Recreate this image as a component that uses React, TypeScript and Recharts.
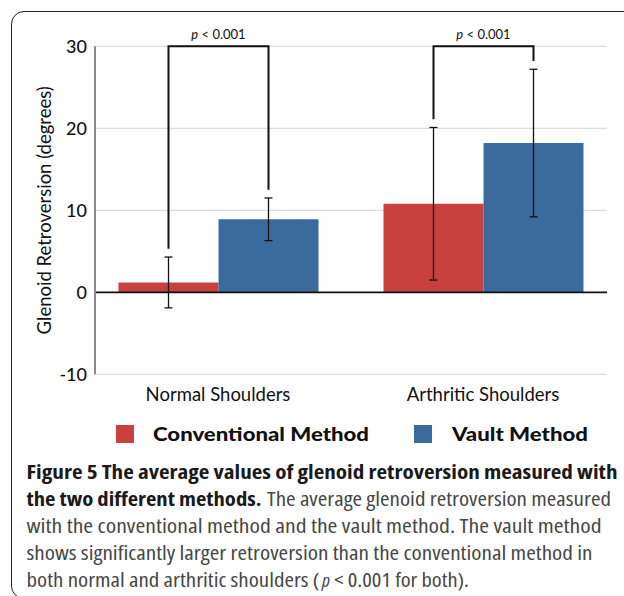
import React from 'react';
import {
  BarChart, Bar, XAxis, YAxis, CartesianGrid, ErrorBar, ReferenceLine, Legend, LabelList,
} from 'recharts';

const categories = ['Normal Shoulders', 'Arthritic Shoulders'];
const conventional = [1.2, 10.8];
const vault = [8.9, 18.2];
const conventionalErr = [3.1, 9.3];
const vaultErr = [2.6, 9.0];
const bracketTop = 30;
const bracketConvEnd = [5.3, 21.1];
const bracketVaultEnd = [12.5, 28.2];
const pLabels = ['< 0.001', '< 0.001'];
const yTicks = [-10, 0, 10, 20, 30];

const seriesNames = ['Conventional Method', 'Vault Method'];
const RED = '#c8413f';
const BLUE = '#3b6b9c';
const FONT = 'Lato, "Open Sans", sans-serif';

const data = categories.map((c, i) => ({
  category: c,
  conventional: conventional[i],
  vault: vault[i],
  convErr: conventionalErr[i],
  vaultErr: vaultErr[i],
}));

const renderBracket = (props: any) => {
  const { x, y, width, height, index } = props;
  const i = typeof index === 'number' ? index : 0;
  const value = conventional[i];
  const zero = y + height;
  const ppu = height / value;
  const pix = (v: number) => zero - v * ppu;
  const xL = x + width / 2;
  const xR = x + width * 1.5;
  const yTop = pix(bracketTop);
  const yL = pix(bracketConvEnd[i]);
  const yR = pix(bracketVaultEnd[i]);
  return (
    <g>
      <path d={`M${xL},${yL} V${yTop} H${xR} V${yR}`} fill="none" stroke="#111" strokeWidth={2} />
      <text x={x + width} y={yTop - 7} textAnchor="middle" fontSize={13} fontFamily={FONT} fill="#111">
        <tspan fontStyle="italic">p</tspan>
        <tspan> {pLabels[i]}</tspan>
      </text>
    </g>
  );
};

const legendTextLen = [216, 136];
const renderLegend = () => (
  <svg width={480} height={30} style={{ display: 'block', overflow: 'visible' }}>
    <rect x={0} y={4} width={18} height={18} fill={RED} />
    <text x={37} y={19.5} textLength={legendTextLen[0]} lengthAdjust="spacingAndGlyphs" fontSize={19} fontWeight={900} fontFamily={FONT} fill="#111">
      {seriesNames[0]}
    </text>
    <rect x={298} y={4} width={18} height={18} fill={BLUE} />
    <text x={336} y={19.5} textLength={legendTextLen[1]} lengthAdjust="spacingAndGlyphs" fontSize={19} fontWeight={900} fontFamily={FONT} fill="#111">
      {seriesNames[1]}
    </text>
  </svg>
);

const captionRegular = [
  'with the conventional method and the vault method. The vault method',
  'shows significantly larger retroversion than the conventional method in',
];

const capStyle: React.CSSProperties = { fontStretch: 'condensed' };

export default function App() {
  return (
    <div style={{ position: 'absolute', left: 0, top: 0, width: 624, height: 596, overflow: 'hidden', background: '#fff' }}>
      <div style={{ position: 'absolute', left: 11, top: 11, width: 640, height: 588, border: '1.5px solid #222', borderRadius: 13, boxSizing: 'border-box' }} />
      <div style={{ position: 'absolute', left: 0, top: 0 }}>
        <BarChart
          width={624}
          height={460}
          data={data}
          margin={{ top: 46.3, right: 17, bottom: 45.7, left: 0 }}
          barGap={0}
          barSize={100}
        >
          <CartesianGrid vertical={false} stroke="#dcdcdc" strokeWidth={1.2} />
          <XAxis
            dataKey="category"
            axisLine={false}
            tickLine={false}
            tickSize={0}
            tickMargin={14}
            height={40}
            padding={{ left: -9.5, right: -8.5 }}
            tick={{ fontSize: 18.5, fill: '#111', fontFamily: FONT }}
          />
          <YAxis
            width={95}
            domain={[-10, 30]}
            ticks={yTicks}
            tickLine={false}
            axisLine={{ stroke: '#8a8a8a', strokeWidth: 2 }}
            tick={{ fontSize: 18, fill: '#111', fontFamily: FONT, fontWeight: 500 }}
            label={{ value: 'Glenoid Retroversion (degrees)', angle: -90, position: 'center', dx: -3, style: { fontSize: 18.5, fill: '#111', fontFamily: FONT } }}
          />
          <Bar dataKey="conventional" fill={RED} isAnimationActive={false}>
            <ErrorBar dataKey="convErr" width={4} stroke="#111" strokeWidth={1.3} direction="y" />
            <LabelList dataKey="conventional" content={renderBracket} />
          </Bar>
          <Bar dataKey="vault" fill={BLUE} isAnimationActive={false}>
            <ErrorBar dataKey="vaultErr" width={4} stroke="#111" strokeWidth={1.3} direction="y" />
          </Bar>
          <ReferenceLine y={0} stroke="#111" strokeWidth={1.8} />
          <Legend
            verticalAlign="middle"
            align="center"
            layout="horizontal"
            content={renderLegend}
            wrapperStyle={{ top: 421, left: 116, width: 480, height: 30 }}
          />
        </BarChart>
      </div>
      <svg width={624} height={146} style={{ position: 'absolute', left: 0, top: 450 }}>
        <g fontFamily='"Open Sans", sans-serif' fontSize={19} style={capStyle}>
          <text x={26.5} y={28.5} textLength={591} lengthAdjust="spacingAndGlyphs" fontWeight={700} fill="#1a1a1a">
            Figure 5 The average values of glenoid retroversion measured with
          </text>
          <text x={26.5} y={55.5} textLength={235} lengthAdjust="spacingAndGlyphs" fontWeight={700} fill="#1a1a1a">
            the two different methods.
          </text>
          <text x={267} y={55.5} textLength={344} lengthAdjust="spacingAndGlyphs" fill="#474747">
            The average glenoid retroversion measured
          </text>
          <text x={26.5} y={82.5} textLength={575} lengthAdjust="spacingAndGlyphs" fill="#474747">
            {captionRegular[0]}
          </text>
          <text x={26.5} y={109.5} textLength={566} lengthAdjust="spacingAndGlyphs" fill="#474747">
            {captionRegular[1]}
          </text>
          <text x={26.5} y={136.5} textLength={293} lengthAdjust="spacingAndGlyphs" fill="#474747">
            both normal and arthritic shoulders (
          </text>
          <text x={322} y={136.5} fontStyle="italic" fill="#474747">
            p
          </text>
          <text x={334} y={136.5} textLength={135} lengthAdjust="spacingAndGlyphs" fill="#474747">
            &lt; 0.001 for both).
          </text>
        </g>
      </svg>
    </div>
  );
}
